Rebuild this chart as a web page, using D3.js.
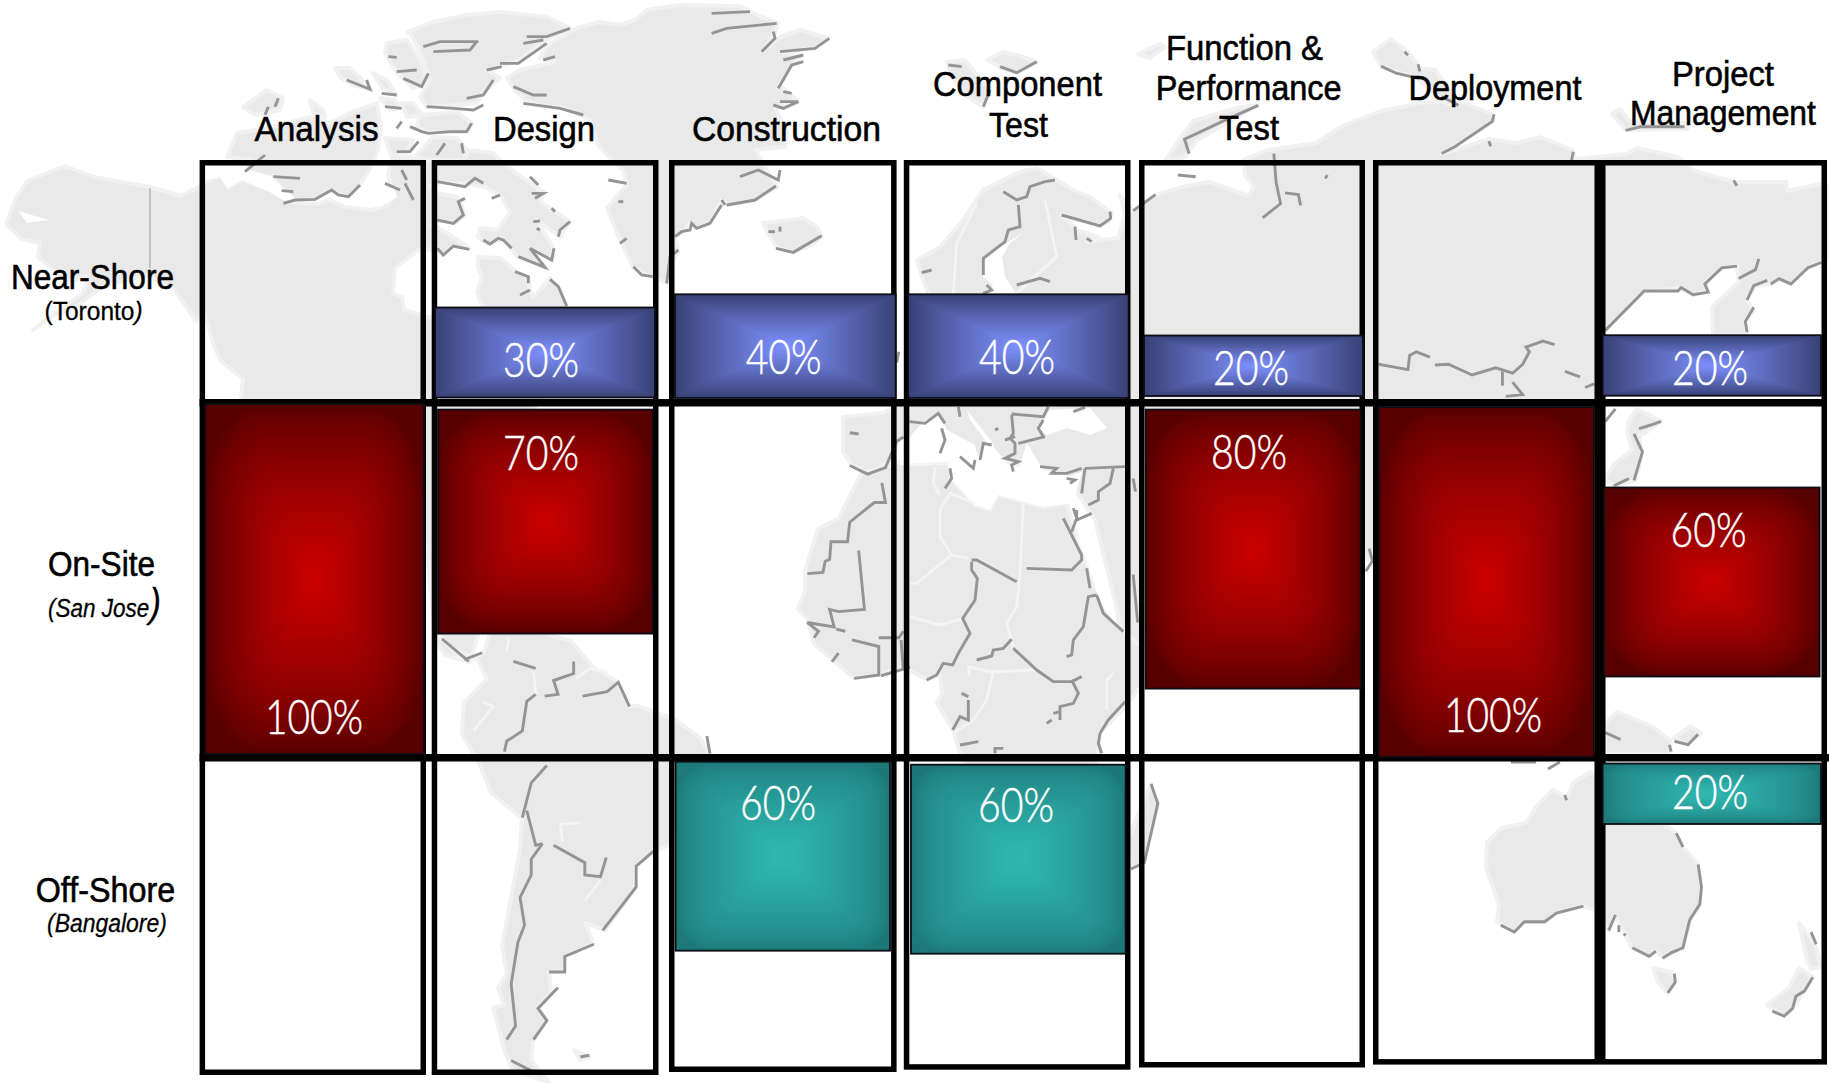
<!DOCTYPE html>
<html>
<head>
<meta charset="utf-8">
<title>Delivery location by project phase</title>
<script src="https://cdnjs.cloudflare.com/ajax/libs/d3/7.8.5/d3.min.js"></script>
<style>
  html, body { margin: 0; padding: 0; background: #fff; }
  svg { display: block; }
  text { font-family: "Liberation Sans", Arial, sans-serif; }
</style>
</head>
<body>
<svg id="chart" width="1829" height="1084"></svg>
<script>
// ---------------------------------------------------------------- data
const phases = ["Analysis", "Design", "Construction", "Component Test",
                "Function & Performance Test", "Deployment", "Project Management"];
const locations = ["Near-Shore", "On-Site", "Off-Shore"];
const sites = ["Toronto", "San Jose", "Bangalore"];

// Share of each phase's work per location, in percent (0 = no bar).
const nearShoreShare = [0, 30, 40, 40, 20, 0, 20];
const onSiteShare    = [100, 70, 0, 0, 80, 100, 60];
const offShoreShare  = [0, 0, 60, 60, 0, 0, 20];
const shareByLocation = [nearShoreShare, onSiteShare, offShoreShare];

// Header wrapping of the phase names.
const phaseLines = [["Analysis"], ["Design"], ["Construction"], ["Component", "Test"],
                    ["Function &", "Performance", "Test"], ["Deployment"], ["Project", "Management"]];

// ---------------------------------------------------------------- layout
const columnLeft   = [199.6, 431.7, 669, 903.8, 1139, 1373, 1600];
const columnRight  = [426, 658.5, 896.6, 1130.5, 1365, 1600, 1827];
const columnBottom = [1075, 1075, 1072, 1069.7, 1067.5, 1064.6, 1064.6];
const frameTop = 160, frameWidth = 5.5;
const dividers = [{ y: 402.7, w: 7.5, x2: 1827 }, { y: 757.8, w: 7.5, x2: 1829 }];

const xScale = d3.scaleOrdinal().domain(phases).range(columnLeft);
// The top edge of the On-Site and Off-Shore rows, the bottom edge of the Near-Shore row.
const rowEdge = d3.scaleOrdinal().domain(locations).range([398, 404, 761.7]);

// A single share-to-height scale is used for every bar in the grid.
const heightScale = d3.scaleLinear()
  .domain([0, 20, 30, 40, 60, 70, 80, 100])
  .range([0, 60.5, 90, 103.7, 189, 224, 279, 350]);

// [inset from column edge, width, nudge from row edge, label dx, label baseline below bar top]
const barTweak = {
  "0-1": [3.3, 220, -0.5, -4, 69.3], "0-2": [6, 220.7, 0, -1.7, 80], "0-3": [4.2, 220.7, 0, -1.3, 80],
  "0-4": [5, 219, -2, -2.5, 49], "0-6": [2.6, 218.4, -2.3, -1.8, 50],
  "1-0": [5.4, 219, 0, -0.5, 329.6], "1-1": [6.3, 214.7, 5.6, -4.3, 60], "1-4": [6.7, 215, 5.6, -4.2, 59.4],
  "1-5": [5.6, 215.4, 3, 6.7, 324.5], "1-6": [4, 215.6, 83.5, -3.2, 59.5],
  "2-2": [6.6, 214.4, 0, -4.8, 58.3], "2-3": [7.2, 214.6, 3, -2.3, 57.3], "2-6": [2.6, 218.4, 1.8, -1.8, 45.5]
};

// edge colour, centre colour, corner softness and ramp exponent of each row's fill
const rowFill = [
  { edge: "#394276", centre: "#7f92ff", round: 0, ramp: 0.95 },
  { edge: "#560000", centre: "#cc0000", round: 0.25, ramp: 0.72 },
  { edge: "#1d7877", centre: "#30b8b2", round: 0.16, ramp: 0.62 }
];

const headerPlace = [
  [[316.6, 141, 124]], [[544, 141, 102]], [[786.5, 141, 189]],
  [[1017.5, 96, 169], [1018.5, 137, 59]],
  [[1244.5, 60, 157], [1248.7, 100, 186], [1249, 140, 60]],
  [[1495, 99.5, 173]],
  [[1723, 85.5, 102], [1723, 125, 186]]
];
const rowLabelPlace = [
  { x: 11, y: 288.6, w: 163, sx: 44.6, sy: 320, sw: 98 },
  { x: 48, y: 576, w: 107, sx: 48, sy: 617, sw: 113 },
  { x: 35.7, y: 901.6, w: 139.5, sx: 47, sy: 932, sw: 120 }
];

// ---------------------------------------------------------------- backdrop map
// Outlines in page units; "x,y x,y ..." strings keep them compact.
const parsePts = s => s.trim().split(/\s+/).map(p => p.split(",").map(Number));

const landOutlines = [
  // North America with Baffin Island
  `7,222 16,198 27,181 65,166 94,177 150,187 181,196 199,187 205,183 220,176 228,188 242,180 270,190 290,202
   318,204 330,200 345,207 372,210 388,205 395,195 388,175 392,157 415,157 425,160 450,160 467,150 493,153 508,167
   530,183 545,193 540,202 553,210 570,222 560,237 537,220 553,248 552,260 530,248 545,267 518,257 502,238 488,245
   478,237 480,228 498,230 510,212 502,197 485,187 465,184 437,182 430,186 437,193 458,197 465,215 455,223 437,220
   432,225 437,227 453,237 469,248 453,246 443,255 437,247 428,250 421,248 395,268 393,293 402,297 404,310 440,320
   483,307 477,293 482,277 478,267 478,257 500,258 517,272 528,277 530,290 533,297 543,287 550,278 560,290 567,307
   560,340 540,398 520,440 500,560 470,662 445,655 435,640 428,560 425,540 240,420 241,398 243,379 221,361 214,346
   205,314 196,321 174,289 147,275 103,286 76,307 49,318 33,330 54,314 83,293 89,275 67,282 38,257 40,243 22,239 7,225`,
  // Arctic islands
  `227,157 237,133 267,128 310,117 330,123 350,113 377,103 381,127 378,150 372,165 360,185 348,197 332,190 315,199
   295,200 283,190 272,177 243,172 233,170 253,160`,
  "243,107 267,90 283,98 280,110 255,115",
  "310,100 323,110 325,117 313,113",
  "335,68 350,68 372,90 353,85 340,77",
  "373,73 387,80 397,95 382,88",
  "385,138 413,140 407,152 392,157",
  "415,157 433,137 457,138 468,153 463,160 433,160",
  "420,115 457,112 472,123 467,132 430,132 417,127",
  "402,103 413,103 423,115 407,117",
  "380,98 395,100 400,108 390,110",
  "387,43 407,40 420,60 427,83 413,88 397,73 385,53",
  `407,32 433,22 467,15 500,12 547,17 570,28 537,45 520,60 487,70 500,78 483,93 477,103 427,107 420,97 430,80
   423,57 410,33`,
  // Greenland
  `577,28 600,22 620,25 635,20 647,10 680,5 740,6 757,15 778,23 775,33 762,52 780,37 800,30 828,38 815,48 783,52
   800,57 792,65 780,85 797,100 775,107 787,133 785,147 755,150 773,180 777,187 755,200 728,205 722,200 710,223
   697,228 690,223 682,232 675,237 678,252 668,270 667,283 652,277 633,267 620,240 607,208 627,185 623,170 612,160
   598,145 590,120 565,108 540,105 525,100 515,90 507,78 520,70 555,62 540,58 548,45`,
  // Iceland, Svalbard, Franz Josef Land
  "763,223 790,220 803,218 817,227 822,236 812,245 793,252 777,248 768,233",
  "947,62 965,60 990,90 983,107 968,97 950,73",
  "987,60 1003,52 1017,55 1037,62 1017,73 1000,67",
  "1138,54 1160,44 1165,47 1150,58",
  // Eurasia
  `917,260 940,247 963,220 983,190 1003,180 1020,172 1037,168 1057,180 1073,190 1090,197 1112,213 1108,222 1100,226
   1062,215 1077,230 1100,238 1087,242 1118,238 1125,215 1120,195 1133,211 1155,195 1182,187 1209,182 1249,196
   1254,186 1245,175 1243,160 1268,150 1316,143 1344,125 1381,111 1411,105 1425,102 1462,102 1492,114 1494,121
   1442,154 1489,139 1516,143 1540,137 1573,150 1575,159 1627,154 1637,148 1678,157 1695,171 1735,182 1786,182
   1787,191 1821,184 1829,186 1829,258 1821,262 1806,268 1791,284 1779,279 1771,284 1755,286 1747,300 1754,311
   1745,321 1747,335 1713,335 1712,307 1739,282 1737,266 1722,268 1705,282 1708,291 1693,295 1678,288 1644,291
   1605,330 1602,336 1605,421 1600,440 1500,700 1375,560 1368,560 1340,500 1250,620 1150,680 1122,630 1095,520
   1067,477 1000,460 900,440 890,461 870,474 852,465 843,452 843,417 883,413 900,403 920,395 935,340 930,297 923,280`,
  "1165,161 1182,136 1193,121 1240,107 1258,105 1227,123 1196,141 1185,157",
  "1373,52 1391,39 1408,52 1420,68 1435,70 1459,104 1448,105 1418,79 1381,66",
  "1612,114 1620,109 1629,121 1685,123 1688,129 1626,130",
  "1629,420 1637,409 1661,421 1647,432 1639,436 1642,452 1636,480 1614,486 1605,479 1614,464 1632,450 1627,432",
  // Africa
  `861,474 839,518 818,529 805,570 805,592 798,609 807,618 814,644 854,678 879,675 903,666 927,680 940,675 942,693
   937,703 953,730 960,753 975,800 985,900 1010,935 1040,930 1065,880 1090,810 1098,753 1100,733 1125,707 1140,687
   1145,650 1122,630 1095,587 1075,530 1067,503 1043,507 998,495 990,510 975,505 952,480 948,463 900,462`,
  "1151,784 1158,804 1144,862 1131,869 1128,840",
  // South America
  `440,637 458,655 469,661 484,653 491,630 531,630 571,641 594,668 618,682 629,706 638,706 676,720 700,738 710,755
   705,775 690,805 670,845 654,851 636,866 634,890 605,930 585,923 594,944 565,956 565,970 549,972 551,991 538,1008
   547,1020 533,1041 531,1060 549,1082 513,1071 504,1050 500,1033 493,1008 504,1005 498,988 507,974 502,946 513,887
   520,849 522,818 491,793 480,765 462,734 464,703 487,679 478,660 446,645`,
  "574,1050 589,1057 580,1060",
  // Australasia
  `1487,842 1502,828 1526,823 1536,807 1553,790 1567,798 1573,783 1590,772 1676,833 1683,847 1698,864 1701,887
   1700,904 1690,920 1683,948 1671,953 1663,958 1656,951 1649,956 1632,948 1624,932 1615,915 1609,930 1594,910
   1583,906 1556,913 1545,922 1524,922 1514,932 1497,922 1499,904 1486,868`,
  "1653,968 1671,972 1675,982 1668,993 1659,984",
  "1767,1005 1789,988 1799,968 1813,977 1803,993 1794,1007 1784,1016",
  "1799,923 1815,944 1821,967 1811,969 1806,956",
  "1605,724 1617,712 1653,727 1671,741 1669,754 1605,754",
  "1674,738 1691,726 1701,733 1688,745"
];

// Inland seas and channels cut back out of the land.
const seaOutlines = [
  `909,438 923,422 938,413 947,430 975,445 978,458 983,443 992,445 1003,458 1013,472 1033,480 1015,480 1027,443
   1043,470 1055,472 1067,477 1082,472 1073,503 1043,507 998,495 990,510 975,505 952,480 948,463 900,465 900,440`,
  "967,410 992,442 997,457 983,437 970,420",
  "1050,410 1090,408 1107,428 1090,435 1067,428 1047,435 1038,428",
  "1075,532 1107,583 1118,627 1100,603 1090,570",
  "1025,232 1008,242 983,260 983,277 993,285 988,295 1017,295 1005,277 1002,257 1010,243",
  "18,211 49,220 27,223",
  "205,166 207,180 220,177 228,188 242,180 270,192 283,200 297,200 283,188 272,177 250,170 250,166",
  "337,198 353,203 380,207 387,203 397,197 393,187 380,182 363,187 350,197"
];

// Drop-shadow strokes along coasts and borders, grouped by the frame they are measured in.
const shadeGroups = [
  { x: 200, y: 0, sx: 3, sy: 3, lines: [
    "980,110 1040,110 1110,85", "970,130 1030,120", "900,190 955,190 1040,130", "670,140 720,125 835,125",
    "700,155 810,150 830,125", "860,210 905,200", "565,170 590,172", "590,215 650,210", "610,235 665,260 685,220",
    "800,295 850,285 880,240", "680,320 760,325 820,330 850,315", "440,240 510,268 500,240", "545,280 590,285",
    "555,320 605,325", "590,385 605,365", "630,380 665,395 685,400 750,395 800,395 815,370", "590,455 630,455 655,425",
    "710,465 735,430", "790,460 785,430", "940,260 1000,285 1040,285", "970,310 1080,325 1150,345", "1030,180 1065,170",
    "135,515 195,465", "220,530 300,535", "245,572 280,575", "250,610 285,600 345,598 395,570 415,585 445,590 480,555",
    "555,550 600,570", "615,550 640,600", "605,510 620,540", "205,320 195,345", "235,295 225,320"
  ]},
  { x: 430, y: 160, sx: 3, sy: 3, lines: [
    "22,65 105,80 135,55 160,70", "185,115 210,105", "105,115 85,125 100,165 70,190 22,180",
    "22,265 40,285 70,258 118,268", "160,240 180,252 205,235 220,240 245,265", "265,290 345,322 300,265 365,300 372,265",
    "385,230 390,210 420,185", "310,185 330,183", "320,205 330,210", "300,50 325,75", "305,100 340,100 315,115",
    "365,145 375,155", "360,358 385,380 410,438", "255,335 295,350 295,370", "270,405 300,390", "535,60 590,70",
    "565,125 580,125", "570,250 590,235", "610,320 635,345 668,350"
  ]},
  { x: 640, y: 0, sx: 3, sy: 3, lines: [
    "215,40 330,35", "215,100 260,85 410,70", "365,155 405,115 400,95", "420,155 525,145 568,115", "430,180 490,165",
    "415,265 455,195 490,185", "430,275 455,280", "400,315 430,325 475,305 420,305", "300,530 355,510 415,540 420,510",
    "260,615 345,600 408,558", "245,600 255,615", "105,710 125,695 150,690 155,670 170,685 210,670 245,615",
    "80,850 90,770 115,750", "408,745 460,757 545,707", "385,695 405,695", "420,680 420,695",
    "1080,200 1130,218 1190,185", "1030,320 1050,270", "925,195 965,200",
    "1090,575 1130,600 1160,590 1170,560 1215,545 1245,540", "1135,615 1140,680 1105,690 1095,725 1030,775 1030,825",
    "1130,855 1200,835 1230,845", "1265,645 1380,678 1412,655 1410,635", "1305,680 1308,720", "1340,715 1355,725",
    "845,818 875,810", "1040,855 1055,870 1030,880"
  ]},
  { x: 660, y: 0, sx: 2.24, sy: 2.8, lines: [
    "1185,430 1175,390 1260,340 1340,295", "1160,490 1200,495", "1375,430 1380,510 1390,570 1350,610",
    "1400,540 1430,545 1435,575", "1495,490 1490,500", "1060,590 1110,545", "535,985 530,1015"
  ]},
  { x: 660, y: 400, sx: 2.24, sy: 2.292, lines: [
    "425,75 445,78", "425,150 465,170 505,155 530,95 545,85", "497,190 505,235 480,235 425,280 420,325 383,325 380,365 370,370 365,395 330,398",
    "445,345 458,480 400,485 380,480 390,520 330,510 355,530 345,545", "415,530 395,525", "400,580 385,600",
    "430,550 490,565 490,630 435,638", "490,545 535,545 545,530", "540,550 545,620", "495,632 560,612",
    "1100,880 1115,925 1085,1060 1055,1075", "105,770 112,810", "1060,180 1065,210", "1060,400 1070,510"
  ]},
  { x: 900, y: 400, sx: 3, sy: 3, lines: [
    "28,65 75,70 115,40 135,70", "125,85 135,120 120,160", "150,205 155,235 135,265", "180,170 220,205 225,180",
    "240,180 250,130 275,135", "175,20 180,50", "285,90 295,85", "315,120 345,110",
    "335,45 340,100 330,115 345,130 345,160 315,175 355,185 335,195 340,215", "335,42 430,50 445,20", "430,60 415,85 430,110",
    "355,130 435,110", "520,35 555,22", "420,200 470,205 455,220 500,220 545,205", "555,205 675,200",
    "640,205 630,250 595,275 595,300 565,315", "555,205 545,280", "500,235 525,240 510,250", "530,330 530,360 575,340",
    "520,325 530,355 515,395", "490,355 545,465 545,480 515,510 380,505", "560,505 570,565",
    "590,585 565,590 550,680 520,720 515,765 500,770", "590,585 610,640 670,695", "215,480 230,480 350,545",
    "215,485 215,510 232,535 225,600 188,655 210,700 175,760 158,795 130,790 110,825 80,840",
    "230,780 275,768 280,750 310,745 335,718", "340,745 410,810 460,845 515,845 545,830", "515,840 535,880 520,910 480,920 480,960",
    "460,940 480,935", "440,970 455,960", "600,1000 625,960 675,905", "600,1000 595,1030 605,1060",
    "205,900 205,960 180,950 158,990", "185,880 205,890", "180,1035 235,1025", "285,1060 285,1045 310,1045"
  ]},
  { x: 0, y: 540, sx: 2.24, sy: 2.882, lines: [
    "1130,610 1135,580 1170,550 1180,465 1200,445", "1220,450 1250,445 1240,405 1285,385 1285,350", "1150,350 1200,370",
    "1305,450 1360,437 1385,410 1410,480", "1170,800 1190,700 1225,650", "1180,780 1200,880 1215,875",
    "1215,875 1190,920 1190,965 1165,1030 1175,1110 1160,1160 1145,1280 1155,1400 1135,1440",
    "1240,880 1310,930 1310,965 1345,970 1358,915", "1350,1125 1425,1000 1425,940 1465,895",
    "1330,1165 1265,1200 1265,1245 1230,1245", "1250,1290 1205,1350 1225,1385 1195,1440",
    "1040,345 1080,325", "990,285 1050,350", "1300,1490 1320,1485", "1145,1500 1190,1530"
  ]},
  { x: 1300, y: 0, sx: 2.964, sy: 2.8, lines: [
    "905,925 1020,815 1120,815 1130,805 1165,825 1210,818 1200,795 1250,750 1295,745", "1300,780 1350,755 1360,725",
    "1325,840 1345,800 1385,785", "1395,795 1420,780 1455,795 1505,750 1545,735", "1345,860 1320,900 1325,930",
    "1285,505 1295,520", "233,1020 320,1035 325,995 345,985 385,1000",
    "400,1022 440,1020 510,1050 580,1030 630,1045 660,1020 680,985 670,972 720,955 755,965", "785,1040 830,1055",
    "845,1085 872,1075", "600,1040 600,1080", "610,1110 660,1105 630,1070", "240,185 285,205 355,220", "310,145 320,155",
    "350,180 355,200", "420,270 470,295", "420,430 460,410 570,340 575,320", "560,395 565,410", "810,425 805,450",
    "965,365 1010,355 1140,355", "1005,1200 1040,1190 1070,1180", "990,1215 1015,1265 990,1345", "930,1360 975,1340",
    "905,1180 935,1145"
  ]},
  { x: 1300, y: 540, sx: 2.964, sy: 2.882, lines: [
    "1115,845 1135,885", "1180,935 1190,1000 1185,1050 1155,1095 1135,1175 1100,1190 1075,1205", "1055,1185 1035,1200 985,1175",
    "840,1055 760,1075 725,1100 665,1100 635,1130 595,1110", "1110,1250 1112,1275 1090,1305",
    "1520,1260 1495,1300 1470,1315 1460,1350 1435,1372 1400,1358", "1515,1130 1530,1165", "1110,580 1150,590 1180,560",
    "905,555 950,575", "1095,590 1100,610", "625,640 700,640", "735,660 770,640", "205,25 215,60 195,90",
    "785,735 790,750", "915,1125 935,1080", "945,1110 945,1130", "960,1135 965,1140"
  ]}
];

// Pale border strokes.
const borderGroups = [
  { x: 900, y: 400, sx: 3, sy: 3, lines: [
    "120,330 150,280 225,310", "120,330 120,410 155,465 205,475", "155,465 50,550 30,550", "370,310 360,530 350,620 320,670 340,740",
    "30,650 120,675 190,655", "210,830 205,800 270,815 410,810", "280,815 260,900 220,960 160,1000", "640,820 620,840 620,930",
    "105,200 100,250 120,285", "28,195 145,190"
  ]},
  { x: 0, y: 540, sx: 2.24, sy: 2.882, lines: [
    "1060,550 1105,480 1080,465", "1195,380 1200,445", "1290,400 1320,370 1360,380", "1310,1040 1345,980",
    "1260,870 1255,820 1300,815", "1140,280 1135,320"
  ]},
  { x: 640, y: 0, sx: 3, sy: 3, lines: [
    "1010,610 950,730 940,880", "1215,600 1250,770 1130,880"
  ]}
];

// ---------------------------------------------------------------- drawing
const svg = d3.select("#chart");
const pathOf = d3.line();
const closedPathOf = d3.line().curve(d3.curveLinearClosed);

const mapLayer = svg.append("g").attr("class", "backdrop");
mapLayer.selectAll("path.land").data(landOutlines.map(parsePts)).join("path")
  .attr("class", "land").attr("d", closedPathOf)
  .attr("fill", "#e9e9e9").attr("stroke", "#f1f1f1").attr("stroke-width", 4).attr("stroke-linejoin", "round");
mapLayer.selectAll("path.sea").data(seaOutlines.map(parsePts)).join("path")
  .attr("class", "sea").attr("d", closedPathOf).attr("fill", "#fff");

const framedLines = groups => groups.flatMap(g =>
  g.lines.map(s => parsePts(s).map(([px, py]) => [g.x + px / g.sx, g.y + py / g.sy])));

mapLayer.selectAll("path.border").data(framedLines(borderGroups)).join("path")
  .attr("class", "border").attr("d", pathOf).attr("fill", "none")
  .attr("stroke", "#f4f4f4").attr("stroke-width", 3).attr("stroke-linejoin", "round");
mapLayer.selectAll("path.shade").data(framedLines(shadeGroups)).join("path")
  .attr("class", "shade").attr("d", pathOf).attr("fill", "none")
  .attr("stroke", "#949494").attr("stroke-width", 2.9).attr("stroke-linejoin", "miter");
// The Alaska boundary is a hairline rather than a shadow.
mapLayer.append("line").attr("x1", 150).attr("x2", 150).attr("y1", 188).attr("y2", 268)
  .attr("stroke", "#a8a8a8").attr("stroke-width", 1.2);

// Column frames and the two row dividers.
svg.append("g").attr("class", "frames").selectAll("rect").data(phases).join("rect")
  .attr("x", d => xScale(d) + frameWidth / 2)
  .attr("y", frameTop + frameWidth / 2)
  .attr("width", (d, i) => columnRight[i] - columnLeft[i] - frameWidth)
  .attr("height", (d, i) => columnBottom[i] - frameTop - frameWidth)
  .attr("fill", "none").attr("stroke", "#000").attr("stroke-width", frameWidth);
svg.append("g").attr("class", "dividers").selectAll("line").data(dividers).join("line")
  .attr("x1", columnLeft[0]).attr("x2", d => d.x2)
  .attr("y1", d => d.y).attr("y2", d => d.y)
  .attr("stroke", "#000").attr("stroke-width", d => d.w);

// One record per non-empty cell of the grid.
const bars = shareByLocation.flatMap((shares, r) => shares.map((share, c) => ({ r, c, share })))
  .filter(d => d.share > 0)
  .map(d => {
    const [inset, width, nudge, labelDx, labelDy] = barTweak[`${d.r}-${d.c}`];
    const h = heightScale(d.share);
    const edge = rowEdge(locations[d.r]) + nudge;
    const y = d.r === 0 ? edge - h : edge;
    return { ...d, x: xScale(phases[d.c]) + inset, y, w: width, h, labelDx, labelDy };
  });

const shadeSteps = 44;
const barGroups = svg.append("g").attr("class", "bars").selectAll("g").data(bars).join("g");

barGroups.append("rect").attr("class", "bar")
  .attr("x", d => d.x).attr("y", d => d.y).attr("width", d => d.w).attr("height", d => d.h)
  .attr("fill", d => rowFill[d.r].edge);

// Concentric layers shade each bar from its rim towards the centre.
barGroups.each(function (d) {
  const fill = rowFill[d.r];
  const colour = d3.interpolateRgb(fill.edge, fill.centre);
  const shells = d3.range(1, shadeSteps).map(i => i / shadeSteps);
  d3.select(this).selectAll("rect.shell").data(shells).join("rect")
    .attr("class", "shell")
    .attr("x", t => d.x + d.w * t / 2)
    .attr("y", t => d.y + d.h * t / 2)
    .attr("width", t => d.w * (1 - t))
    .attr("height", t => d.h * (1 - t))
    .attr("rx", t => d.w * (1 - t) * fill.round)
    .attr("ry", t => d.h * (1 - t) * fill.round)
    .attr("fill", t => colour(Math.pow(t, fill.ramp)));
});

barGroups.append("rect").attr("class", "outline")
  .attr("x", d => d.x).attr("y", d => d.y).attr("width", d => d.w).attr("height", d => d.h)
  .attr("fill", "none").attr("stroke", "#0c0c14").attr("stroke-width", 1.8);

// Squeezes a text node horizontally so that it spans the wanted width.
function fit(node, x, y, width, centred) {
  const natural = node.getComputedTextLength();
  const k = width / natural;
  const left = centred ? x - width / 2 : x;
  d3.select(node).attr("transform", `translate(${left},${y}) scale(${k},1)`);
}

barGroups.append("text").attr("class", "value")
  .text(d => `${d.share}%`)
  .attr("font-size", 47).attr("fill", "#fff").attr("stroke", "#fff").attr("stroke-width", 0.5)
  .style("font-family", 'Lato, "Open Sans", sans-serif').style("font-weight", 300)
  .each(function (d) {
    fit(this, d.x + d.w / 2 + d.labelDx, d.y + d.labelDy, d.share === 100 ? 98 : 76, true);
  });

// Phase headers.
const headers = svg.append("g").attr("class", "phase-headers");
phaseLines.forEach((lines, c) => lines.forEach((line, n) => {
  const [x, y, w] = headerPlace[c][n];
  headers.append("text").text(line).attr("font-size", 35).attr("fill", "#000")
    .attr("stroke", "#000").attr("stroke-width", 0.6)
    .each(function () { fit(this, x, y, w, true); });
}));

// Location labels with their site names beneath.
const rowLabels = svg.append("g").attr("class", "location-labels");
locations.forEach((loc, r) => {
  const p = rowLabelPlace[r];
  rowLabels.append("text").text(loc).attr("font-size", 35).attr("fill", "#000")
    .attr("stroke", "#000").attr("stroke-width", 0.6)
    .each(function () { fit(this, p.x, p.y, p.w, false); });
  const sub = rowLabels.append("text").attr("font-size", 26).attr("fill", "#000")
    .attr("stroke", "#000").attr("stroke-width", 0.3);
  sub.append("tspan").text("(" + sites[r]).style("font-style", r === 0 ? "normal" : "italic");
  sub.append("tspan").text(")").style("font-style", "italic")
    .attr("font-size", r === 1 ? 40 : 26);
  sub.each(function () { fit(this, p.sx, p.sy, p.sw, false); });
});
</script>
</body>
</html>
